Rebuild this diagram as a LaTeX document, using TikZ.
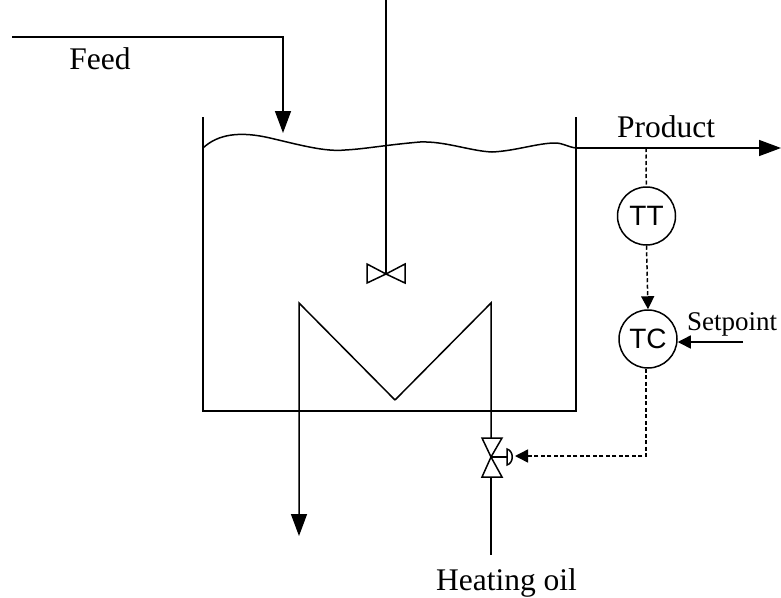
\documentclass[tikz,border=0pt]{standalone}
\usepackage{fontspec}
\setmainfont{Liberation Serif}
\setsansfont{Liberation Sans}
\usetikzlibrary{arrows.meta,positioning,calc}
\tikzset{
  pipe/.style={line width=1.5pt},
  bigflow/.style={pipe,-{Triangle[length=22pt,width=16pt]}},
  signal/.style={pipe,dash pattern=on 4pt off 2.5pt},
  sigtip/.style={-{Triangle[length=13pt,width=13pt]}},
  instr/.style={draw,circle,pipe,minimum size=58pt,inner sep=0pt,font=\sffamily\fontsize{28}{28}\selectfont},
  label/.style={font=\fontsize{31.5}{32}\selectfont,inner sep=0pt,anchor=base},
}
\begin{document}
\begin{tikzpicture}[x=1pt,y=-1pt]
\useasboundingbox (0,0) rectangle (781,597);
% feed and agitator
\coordinate (feedstart) at (12,37);
\coordinate (feedbend) at (283,37);
\coordinate (feedend) at (283,133);
\coordinate (shafttop) at (386,0);
\coordinate (hub) at (386,274);
\node[label] (feed) at (100,69) {Feed};
\draw[bigflow] (feedstart) -- (feedbend) -- (feedend);
\draw[pipe] (shafttop) -- (hub);
\draw[pipe,line join=miter] (hub) -- (367,264) -- (367,283) -- cycle;
\draw[pipe,line join=miter] (hub) -- (405,264) -- (405,283) -- cycle;
% vessel
\coordinate (tankl) at (203,117);
\coordinate (tankr) at (576,117);
\coordinate (levell) at (203,148);
\coordinate (levelr) at (576,148);
\draw[pipe] (tankl) -- (203,411) -- (576,411) -- (tankr);
\draw[pipe] (levell) .. controls (218,134) and (240,131) .. (270,138)
  .. controls (300,145) and (325,152) .. (345,150)
  .. controls (365,149) and (385,145) .. (420,142)
  .. controls (445,141) and (470,151) .. (492,152)
  .. controls (515,151) and (538,143) .. (555,143)
  .. controls (563,143) and (568,147) .. (levelr);
% coil
\coordinate (coilout) at (299,536);
\coordinate (coiltopl) at (299,303);
\coordinate (coilmid) at (395,400);
\coordinate (coiltopr) at (491,303);
\coordinate (valve) at (491,457);
\coordinate (oilin) at (491,555);
\draw[bigflow] (coilmid) -- (coiltopl) -- (coilout);
\draw[pipe] (coilmid) -- (coiltopr) -- (491,438);
\draw[pipe] (491,477) -- (oilin);
\draw[pipe,line join=miter] (valve) -- (482,438) -- (502,438) -- cycle;
\draw[pipe,line join=miter] (valve) -- (482,477) -- (502,477) -- cycle;
\draw[pipe] (valve) -- (507,457);
\draw[pipe] (507,449) .. controls (514,451) and (514,463) .. (507,465) -- cycle;
\node[label] (oil) at (506.5,590) {Heating oil};
% product and control loop
\coordinate (prodend) at (781,148);
\coordinate (tap) at (646,148);
\node[label] (product) at (666,137) {Product};
\draw[bigflow] (levelr) -- (prodend);
\node[instr] (tt) at (646.5,216) {TT};
\node[instr] (tc) at (648,339) {TC};
\draw[signal] (tap) -- (tt);
\draw[signal,sigtip] (tt.south) -- (tc.north);
\coordinate (sp) at (743,342);
\node[label,font=\fontsize{27}{27}\selectfont] (setpt) at (732,330) {Setpoint};
\draw[pipe,sigtip] (sp) -- (tc.east |- sp);
\coordinate (tcdown) at (646,456);
\coordinate (act) at (515,456);
\draw[signal,sigtip] (tc.south -| tcdown) -- (tcdown) -- (act);
\end{tikzpicture}
\end{document}
